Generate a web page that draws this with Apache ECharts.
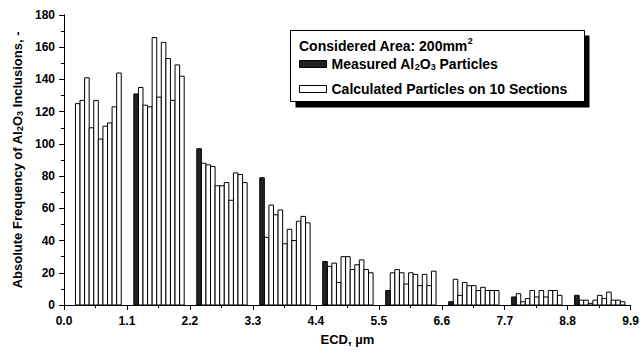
<!DOCTYPE html>
<html><head><meta charset="utf-8">
<script src="https://cdn.jsdelivr.net/npm/echarts@6/dist/echarts.min.js"></script>
<style>html,body{margin:0;padding:0;background:#fff}#c{width:642px;height:354px}</style>
</head><body><div id="c"></div>
<script>
// ECD classes (lower bounds, µm)
const classLower = [0.0, 1.1, 2.2, 3.3, 4.4, 5.5, 6.6, 7.7, 8.8];
// Measured Al2O3 particles per class
const measured = [0, 131, 97, 79, 27, 9, 2, 5, 6];
// Calculated particles on 10 sections (one value per section, per class)
const calcClass1 = [125, 127, 141, 110, 127, 103, 111, 113, 123, 144];
const calcClass2 = [135, 124, 123, 166, 129, 163, 153, 127, 149, 142];
const calcClass3 = [88, 87, 86, 74, 74, 76, 65, 82, 81, 76];
const calcClass4 = [42, 62, 56, 59, 38, 47, 40, 52, 55, 51];
const calcClass5 = [24, 26, 14, 30, 30, 22, 25, 28, 22, 20];
const calcClass6 = [20, 22, 20, 13, 20, 19, 12, 19, 12, 21];
const calcClass7 = [16, 6, 14, 12, 12, 9, 11, 9, 9, 9];
const calcClass8 = [7, 2, 4, 9, 5, 9, 5, 9, 9, 6];
const calcClass9 = [3, 3, 1, 3, 6, 4, 8, 3, 3, 2];
const calculated = [calcClass1, calcClass2, calcClass3, calcClass4, calcClass5, calcClass6, calcClass7, calcClass8, calcClass9];
// Axis ticks
const xTicks = [0.0, 1.1, 2.2, 3.3, 4.4, 5.5, 6.6, 7.7, 8.8, 9.9];
const yTicks = [0, 20, 40, 60, 80, 100, 120, 140, 160, 180];

// layout constants (bar width and offsets inside a class, in µm)
const BAR_W = 0.08, FIRST_OFF = 0.16;
const FONT = 'Liberation Sans, Arial, sans-serif';

const measuredData = [];
const calcData = [];
classLower.forEach((c, i) => {
  if (measured[i] > 0) measuredData.push([c + FIRST_OFF, measured[i]]);
  calculated[i].forEach((v, j) => calcData.push([c + FIRST_OFF + BAR_W * (j + 1), v]));
});

function makeRender(fill) {
  return function (params, api) {
    const x = api.value(0), y = api.value(1);
    const p0 = api.coord([x - BAR_W / 2, y]);
    const p1 = api.coord([x + BAR_W / 2, 0]);
    return {
      type: 'rect',
      shape: { x: p0[0], y: p0[1], width: p1[0] - p0[0], height: p1[1] - p0[1] },
      style: { fill: fill, stroke: '#000', lineWidth: 1 }
    };
  };
}

const xStep = xTicks[1] - xTicks[0];
const yStep = yTicks[1] - yTicks[0];
const labelStyle = { color: '#000', fontFamily: FONT, fontWeight: 'bold', fontSize: 12 };
const axisLine = { show: true, lineStyle: { color: '#000', width: 1 } };
const subRich = { fontFamily: FONT, fontWeight: 'bold', fontSize: 9, verticalAlign: 'bottom', lineHeight: 6, color: '#000' };

const chart = echarts.init(document.getElementById('c'), null, { renderer: 'svg' });
chart.setOption({
  animation: false,
  backgroundColor: '#fff',
  grid: { left: 64, right: 2, top: 15, bottom: 49 },
  xAxis: [{
    type: 'value', min: xTicks[0], max: xTicks[xTicks.length - 1], interval: xStep,
    position: 'bottom',
    axisLine: axisLine,
    axisTick: { show: true, inside: false, length: 5, lineStyle: { color: '#000' } },
    minorTick: { show: true, splitNumber: 2, length: 3, lineStyle: { color: '#000' } },
    splitLine: { show: false },
    axisLabel: Object.assign({ margin: 10, formatter: v => v.toFixed(1) }, labelStyle),
    name: 'ECD, µm', nameLocation: 'middle', nameGap: 28,
    nameTextStyle: { color: '#000', fontFamily: FONT, fontWeight: 'bold', fontSize: 13 }
  }, {
    type: 'value', min: xTicks[0], max: xTicks[xTicks.length - 1], interval: xStep,
    position: 'top',
    axisLine: axisLine,
    axisTick: { show: true, inside: true, length: 5, lineStyle: { color: '#000' } },
    minorTick: { show: true, splitNumber: 2, length: 3, lineStyle: { color: '#000' } },
    splitLine: { show: false },
    axisLabel: { show: false }
  }],
  yAxis: [{
    type: 'value', min: yTicks[0], max: yTicks[yTicks.length - 1], interval: yStep,
    position: 'left',
    axisLine: axisLine,
    axisTick: { show: true, inside: false, length: 5, lineStyle: { color: '#000' } },
    minorTick: { show: true, splitNumber: 2, length: 3, lineStyle: { color: '#000' } },
    splitLine: { show: false },
    axisLabel: Object.assign({ margin: 9 }, labelStyle),
    name: 'Absolute Frequency of Al{sub|2}O{sub|3} Inclusions, -',
    nameLocation: 'middle', nameGap: 40,
    nameTextStyle: {
      color: '#000', fontFamily: FONT, fontWeight: 'bold', fontSize: 13,
      rich: { sub: subRich }
    }
  }, {
    type: 'value', min: yTicks[0], max: yTicks[yTicks.length - 1], interval: yStep,
    position: 'right',
    axisLine: axisLine,
    axisTick: { show: true, inside: true, length: 5, lineStyle: { color: '#000' } },
    minorTick: { show: true, splitNumber: 2, length: 3, lineStyle: { color: '#000' } },
    splitLine: { show: false },
    axisLabel: { show: false }
  }],
  legend: {
    orient: 'vertical', left: 294, top: 52, z: 10,
    itemWidth: 27, itemHeight: 7, itemGap: 11,
    selectedMode: false,
    textStyle: {
      color: '#000', fontFamily: FONT, fontWeight: 'bold', fontSize: 14,
      rich: { sub: subRich }
    },
    formatter: n => n.replace(/Al2O3/, 'Al{sub|2}O{sub|3}'),
    data: [
      { name: 'Measured Al2O3 Particles', icon: 'rect', itemStyle: { color: '#222', borderColor: '#000', borderWidth: 1 } },
      { name: 'Calculated Particles on 10 Sections', icon: 'rect', itemStyle: { color: '#fff', borderColor: '#000', borderWidth: 1 } }
    ]
  },
  graphic: [
    { type: 'rect', z: 5, shape: { x: 295.5, y: 35.5, width: 294, height: 72 }, style: { fill: '#000' } },
    { type: 'rect', z: 6, shape: { x: 290.5, y: 30.5, width: 294, height: 71 }, style: { fill: '#fff', stroke: '#000', lineWidth: 1 } },
    { type: 'text', z: 7, left: 299, top: 36,
      style: {
        text: 'Considered Area: 200mm{sup|2}', fill: '#000', font: 'bold 14px ' + FONT, lineHeight: 20,
        rich: { sup: { fontFamily: FONT, fontWeight: 'bold', fontSize: 9, verticalAlign: 'top', lineHeight: 10, fill: '#000' } }
      } }
  ],
  series: [{
    name: 'Measured Al2O3 Particles', type: 'custom', xAxisIndex: 0, yAxisIndex: 0,
    itemStyle: { color: '#222', borderColor: '#000' },
    renderItem: makeRender('#222'), data: measuredData, z: 3
  }, {
    name: 'Calculated Particles on 10 Sections', type: 'custom', xAxisIndex: 0, yAxisIndex: 0,
    itemStyle: { color: '#fff', borderColor: '#000' },
    renderItem: makeRender('#fff'), data: calcData, z: 2
  }]
});
</script></body></html>
